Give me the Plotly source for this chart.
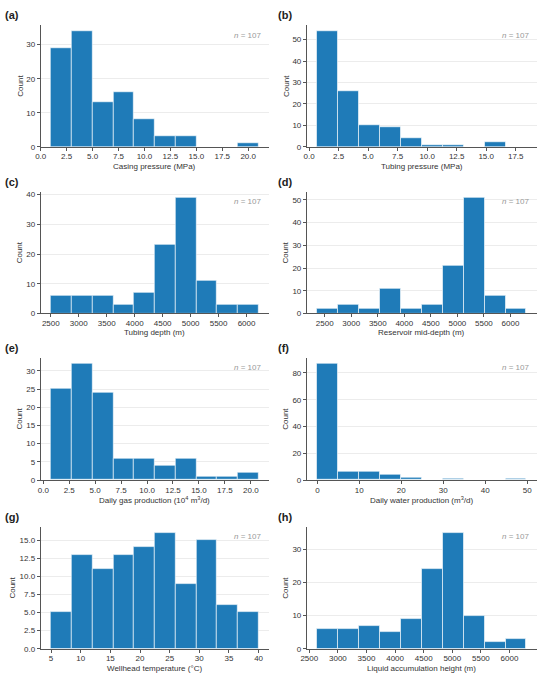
import numpy as np
import plotly.graph_objects as go
from plotly.subplots import make_subplots

# panel labels and x axis titles
panels = ["(a)", "(b)", "(c)", "(d)", "(e)", "(f)", "(g)", "(h)"]
x_titles = [
    "Casing pressure (MPa)",
    "Tubing pressure (MPa)",
    "Tubing depth (m)",
    "Reservoir mid-depth (m)",
    "Daily gas production (10<sup>4</sup> m<sup>3</sup>/d)",
    "Daily water production (m<sup>3</sup>/d)",
    "Wellhead temperature (°C)",
    "Liquid accumulation height (m)",
]

# histogram bin range (min, max) for each variable, 10 equal bins
bin_lo = [1.0, 0.7, 2505, 2361, 0.75, 0.0, 5.0, 2641]
bin_hi = [21.0, 18.4, 6215, 6300, 20.75, 49.8, 40.0, 6295]

# counts per bin
counts_a = [29, 34, 13, 16, 8, 3, 3, 0, 0, 1]
counts_b = [54, 26, 10, 9, 4, 1, 1, 0, 2, 0]
counts_c = [6, 6, 6, 3, 7, 23, 39, 11, 3, 3]
counts_d = [2, 4, 2, 11, 2, 4, 21, 51, 8, 2]
counts_e = [25, 32, 24, 6, 6, 4, 6, 1, 1, 2]
counts_f = [87, 6, 6, 4, 2, 0, 1, 0, 0, 1]
counts_g = [5, 13, 11, 13, 14, 16, 9, 15, 6, 5]
counts_h = [6, 6, 7, 5, 9, 24, 35, 10, 2, 3]
all_counts = [counts_a, counts_b, counts_c, counts_d, counts_e, counts_f, counts_g, counts_h]

n_wells = 107

# tick spacing
x_dtick = [2.5, 2.5, 500, 500, 2.5, 10, 5, 500]
x_fmt = [".1f", ".1f", "d", "d", ".1f", "d", "d", "d"]
y_dtick = [10, 10, 10, 10, 5, 20, 2.5, 10]
y_fmt = ["d", "d", "d", "d", "d", "d", ".1f", "d"]

bar_color = "#1f7bb8"
text_color = "#333"
font_family = "Liberation Sans, Arial, sans-serif"

fig = make_subplots(rows=4, cols=2)

# axis boxes in paper coords
col_dom = [[0.074, 0.489], [0.558, 0.976]]
row_dom = [[0.784, 0.963], [0.539, 0.718], [0.294, 0.474], [0.046, 0.225]]

for i in range(8):
    r = i // 2 + 1
    c = i % 2 + 1
    edges = np.linspace(bin_lo[i], bin_hi[i], 11)
    w = edges[1] - edges[0]
    centers = edges[:-1] + w / 2
    fig.add_trace(go.Bar(
        x=centers, y=all_counts[i], width=w,
        marker=dict(color=bar_color, line=dict(color="rgba(255,255,255,0.75)", width=0.8)),
        showlegend=False,
    ), row=r, col=c)

    span = bin_hi[i] - bin_lo[i]
    xr = [bin_lo[i] - 0.05 * span, bin_hi[i] + 0.05 * span]
    yr = [0, max(all_counts[i]) * 1.05]
    ax = "" if i == 0 else str(i + 1)

    fig.update_xaxes(
        domain=col_dom[c - 1], range=xr, dtick=x_dtick[i], tick0=0, tickformat=x_fmt[i],
        showline=True, linecolor="#555", linewidth=1, showgrid=False, zeroline=False,
        ticks="outside", ticklen=3, tickcolor="#555", tickfont=dict(size=8, color=text_color),
        ticklabelstandoff=-1,
        automargin=False,
        row=r, col=c,
    )
    fig.update_yaxes(
        domain=row_dom[r - 1], range=yr, dtick=y_dtick[i], tick0=0, tickformat=y_fmt[i],
        showline=True, linecolor="#555", linewidth=1, showgrid=True, gridcolor="#ececec",
        gridwidth=0.8, zeroline=False,
        ticks="outside", ticklen=3, tickcolor="#555", tickfont=dict(size=8, color=text_color),
        automargin=False,
        row=r, col=c,
    )

    xd = "x%s domain" % ax
    yd = "y%s domain" % ax
    # axis titles (y title sits further out when tick labels are wider)
    fig.add_annotation(
        text=x_titles[i], xref=xd, yref=yd, x=0.5, y=0, xanchor="center", yanchor="top",
        yshift=-13, showarrow=False, font=dict(size=8, color=text_color),
    )
    fig.add_annotation(
        text="Count", xref=xd, yref=yd, x=0, y=0.5, xanchor="center", yanchor="middle",
        xshift=-28 if y_fmt[i] == ".1f" else -21, textangle=-90, showarrow=False,
        font=dict(size=8, color=text_color),
    )
    fig.add_annotation(
        text="<i>n</i> = %d" % n_wells, xref=xd, yref=yd,
        x=0.975, y=0.918, xanchor="right", yanchor="middle", showarrow=False,
        font=dict(size=8, color="#999"),
    )
    fig.add_annotation(
        text="<b>%s</b>" % panels[i], xref="paper", yref="paper",
        x=0.006 if c == 1 else 0.502, y=row_dom[r - 1][1], yshift=10,
        xanchor="left", yanchor="middle", showarrow=False,
        font=dict(size=11, color="#222"),
    )

fig.update_layout(
    width=550, height=680,
    margin=dict(l=0, r=0, t=0, b=0),
    plot_bgcolor="white", paper_bgcolor="white",
    font=dict(family=font_family, size=8, color=text_color),
    bargap=0,
)

# drop the browser's default page margin so the figure sits at the window corner
fig.write_html("out.html", config={"displayModeBar": False},
               post_script="document.body.style.margin='0';")
